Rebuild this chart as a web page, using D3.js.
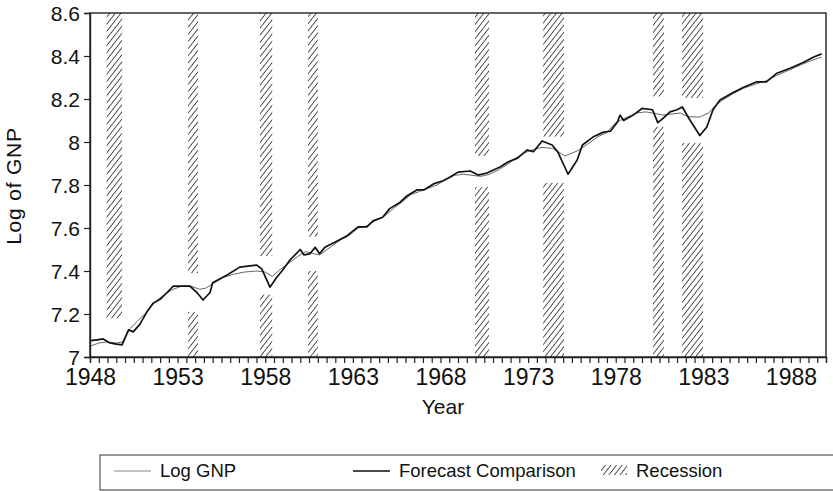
<!DOCTYPE html>
<html>
<head>
<meta charset="utf-8">
<script src="https://cdn.jsdelivr.net/npm/d3@7"></script>
<style>
  body { margin: 0; background: #fff; }
  svg { font-family: "Liberation Sans", Arial, Helvetica, sans-serif; }
</style>
</head>
<body>
<svg id="chart" width="833" height="491"></svg>
<script>
// Log GNP (thin, smooth)
var gnpYears = [1948.0, 1948.5, 1949.0, 1949.5, 1949.85, 1950.25, 1950.75, 1951.25, 1951.75, 1952.25,
  1952.75, 1953.25, 1953.75, 1954.25, 1954.6, 1955.0, 1955.6, 1956.2, 1956.8, 1957.5,
  1958.0, 1958.4, 1958.9, 1959.4, 1959.9, 1960.3, 1960.8, 1961.1, 1961.7, 1962.3,
  1962.8, 1963.3, 1963.8, 1964.3, 1964.8, 1965.3, 1965.8, 1966.3, 1966.8, 1967.3,
  1967.8, 1968.3, 1968.8, 1969.3, 1969.8, 1970.3, 1970.8, 1971.3, 1971.8, 1972.3,
  1972.8, 1973.3, 1973.8, 1974.4, 1975.1, 1975.85, 1976.4, 1977.0, 1977.5, 1978.0,
  1978.5, 1979.2, 1979.7, 1980.1, 1980.7, 1981.2, 1981.7, 1982.1, 1982.8, 1983.3,
  1983.7, 1984.1, 1984.7, 1985.3, 1986.0, 1986.6, 1987.2, 1987.9, 1988.6, 1989.2, 1989.75];
var gnpValues = [7.05, 7.065, 7.07, 7.065, 7.07, 7.13, 7.17, 7.21, 7.26, 7.29,
  7.315, 7.33, 7.33, 7.315, 7.32, 7.34, 7.37, 7.385, 7.395, 7.40,
  7.395, 7.375, 7.41, 7.44, 7.47, 7.49, 7.48, 7.475, 7.51, 7.545,
  7.565, 7.60, 7.61, 7.635, 7.655, 7.69, 7.72, 7.755, 7.77, 7.785,
  7.80, 7.825, 7.845, 7.85, 7.845, 7.84, 7.85, 7.87, 7.895, 7.925,
  7.95, 7.965, 7.975, 7.97, 7.935, 7.96, 7.99, 8.025, 8.045, 8.09,
  8.11, 8.135, 8.14, 8.135, 8.125, 8.13, 8.135, 8.118, 8.116, 8.135,
  8.17, 8.195, 8.225, 8.25, 8.27, 8.285, 8.31, 8.335, 8.36, 8.38, 8.395];

// Forecast Comparison (dark, dips in recessions)
var fcYears = [1948.0, 1948.4, 1948.75, 1949.14, 1949.5, 1949.83, 1950.2, 1950.47, 1950.85, 1951.25,
  1951.6, 1952.0, 1952.4, 1952.75, 1953.25, 1953.7, 1954.1, 1954.45, 1954.85, 1955.0,
  1955.8, 1956.55, 1957.5, 1957.8, 1958.27, 1958.65, 1959.0, 1959.4, 1960.0, 1960.2,
  1960.55, 1960.85, 1961.1, 1961.4, 1962.0, 1962.65, 1963.3, 1963.8, 1964.15, 1964.7,
  1965.1, 1965.7, 1966.1, 1966.65, 1967.05, 1967.6, 1968.15, 1968.55, 1969.0, 1969.7,
  1970.15, 1970.65, 1971.4, 1971.85, 1972.4, 1972.95, 1973.3, 1973.8, 1974.37, 1974.7,
  1975.28, 1975.8, 1976.1, 1976.7, 1977.3, 1977.7, 1978.1, 1978.25, 1978.45, 1979.0,
  1979.5, 1980.1, 1980.4, 1980.7, 1981.1, 1981.5, 1981.8, 1982.25, 1982.8, 1983.2,
  1983.55, 1983.95, 1984.7, 1985.3, 1986.05, 1986.6, 1987.2, 1987.95, 1988.7, 1989.3, 1989.75];
var fcValues = [7.076, 7.08, 7.084, 7.065, 7.06, 7.056, 7.126, 7.117, 7.153, 7.21,
  7.25, 7.268, 7.30, 7.33, 7.33, 7.33, 7.30, 7.265, 7.30, 7.345,
  7.38, 7.418, 7.428, 7.41, 7.325, 7.37, 7.405, 7.45, 7.50, 7.475,
  7.48, 7.51, 7.48, 7.51, 7.535, 7.563, 7.605, 7.605, 7.633, 7.65,
  7.69, 7.72, 7.75, 7.777, 7.777, 7.805, 7.82, 7.837, 7.86, 7.865,
  7.846, 7.856, 7.884, 7.907, 7.925, 7.963, 7.955, 8.005, 7.986, 7.953,
  7.85, 7.916, 7.986, 8.023, 8.046, 8.05, 8.093, 8.125, 8.10, 8.125,
  8.156, 8.15, 8.09, 8.11, 8.14, 8.15, 8.163, 8.10, 8.03, 8.07,
  8.15, 8.195, 8.23, 8.255, 8.28, 8.28, 8.32, 8.343, 8.37, 8.395, 8.41];

// recession shading: start, end, and the open gap around the lines
var recStart = [1948.95, 1953.6, 1957.7, 1960.44, 1969.97, 1973.86, 1980.13, 1981.79];
var recEnd   = [1949.83, 1954.16, 1958.4, 1961.0, 1970.77, 1975.05, 1980.75, 1982.99];
var gapLow   = [7.0, 7.21, 7.29, 7.40, 7.79, 7.81, 8.07, 7.995];
var gapHigh  = [7.18, 7.39, 7.47, 7.56, 7.935, 8.025, 8.212, 8.205];

var yTicks = [7, 7.2, 7.4, 7.6, 7.8, 8, 8.2, 8.4, 8.6];
var xLabelYears = [1948, 1953, 1958, 1963, 1968, 1973, 1978, 1983, 1988];

(function () {
    var svg = d3.select("#chart");
    var mLeft = 90, mRight = 826, mTop = 13, mBottom = 357;

    var x = d3.scaleLinear().domain([1948, 1990]).range([mLeft, mRight]);
    var y = d3.scaleLinear().domain([7, 8.6]).range([mBottom, mTop]);

    var defs = svg.append("defs");
    var pat = defs.append("pattern")
        .attr("id", "hatch")
        .attr("patternUnits", "userSpaceOnUse")
        .attr("width", 4.4).attr("height", 4.4)
        .attr("patternTransform", "rotate(38)");
    pat.append("line")
        .attr("x1", 2.2).attr("y1", 0).attr("x2", 2.2).attr("y2", 4.4)
        .attr("stroke", "#404040").attr("stroke-width", 0.9);

    // recession bands, split around the lines
    var bands = svg.append("g").attr("class", "bands");
    recStart.forEach(function (s, i) {
        var x0 = x(s), w = x(recEnd[i]) - x(s);
        bands.append("rect")
            .attr("x", x0).attr("y", y(8.6))
            .attr("width", w).attr("height", y(gapHigh[i]) - y(8.6))
            .attr("fill", "url(#hatch)");
        if (gapLow[i] > 7) {
            bands.append("rect")
                .attr("x", x0).attr("y", y(gapLow[i]))
                .attr("width", w).attr("height", y(7) - y(gapLow[i]))
                .attr("fill", "url(#hatch)");
        }
    });

    var line = d3.line()
        .x(function (d) { return x(d[0]); })
        .y(function (d) { return y(d[1]); });

    svg.append("path")
        .datum(d3.zip(gnpYears, gnpValues))
        .attr("d", line)
        .attr("fill", "none")
        .attr("stroke", "#555")
        .attr("stroke-width", 0.9);

    svg.append("path")
        .datum(d3.zip(fcYears, fcValues))
        .attr("d", line)
        .attr("fill", "none")
        .attr("stroke", "#111")
        .attr("stroke-width", 1.7)
        .attr("stroke-linejoin", "round");

    // frame
    svg.append("rect")
        .attr("x", mLeft).attr("y", mTop)
        .attr("width", mRight - mLeft).attr("height", mBottom - mTop)
        .attr("fill", "none").attr("stroke", "#222").attr("stroke-width", 1.4);

    // x axis
    var halfYears = d3.range(1948, 1990.01, 0.5);
    var xAxis = d3.axisBottom(x)
        .tickValues(halfYears)
        .tickSize(6)
        .tickFormat(function (d) { return xLabelYears.indexOf(d) >= 0 ? d : ""; });
    var gx = svg.append("g")
        .attr("transform", "translate(0," + mBottom + ")")
        .call(xAxis);
    gx.select(".domain").attr("stroke", "#222").attr("stroke-width", 1.4);
    gx.selectAll(".tick line").attr("stroke", "#222").attr("stroke-width", 1.2);
    gx.selectAll(".tick text")
        .attr("font-size", 23).attr("fill", "#111")
        .attr("font-family", "Liberation Sans, Arial, sans-serif")
        .attr("dy", "0.78em").attr("y", 10);

    // y axis
    var yAxis = d3.axisLeft(y)
        .tickValues(yTicks)
        .tickSize(6)
        .tickFormat(function (d) { return String(+d.toFixed(1)); });
    var gy = svg.append("g")
        .attr("transform", "translate(" + mLeft + ",0)")
        .call(yAxis);
    gy.select(".domain").attr("stroke", "#222").attr("stroke-width", 1.4);
    gy.selectAll(".tick line").attr("stroke", "#222").attr("stroke-width", 1.2);
    gy.selectAll(".tick text")
        .attr("font-size", 21).attr("fill", "#111")
        .attr("font-family", "Liberation Sans, Arial, sans-serif")
        .attr("x", -10).attr("dy", "0.34em");

    // axis titles
    svg.append("text")
        .attr("x", 443).attr("y", 414)
        .attr("text-anchor", "middle")
        .attr("font-size", 21).attr("fill", "#111")
        .text("Year");

    svg.append("text")
        .attr("transform", "translate(21,186) rotate(-90)")
        .attr("text-anchor", "middle")
        .attr("font-size", 21).attr("fill", "#111")
        .attr("letter-spacing", 0.8)
        .text("Log of GNP");

    // legend
    var lg = svg.append("g").attr("class", "legend");
    lg.append("rect")
        .attr("x", 100).attr("y", 455)
        .attr("width", 760).attr("height", 35)
        .attr("fill", "none").attr("stroke", "#333").attr("stroke-width", 1);

    lg.append("line")
        .attr("x1", 114).attr("x2", 151).attr("y1", 471).attr("y2", 471)
        .attr("stroke", "#777").attr("stroke-width", 0.9);
    lg.append("text")
        .attr("x", 160).attr("y", 477)
        .attr("font-size", 18.5).attr("fill", "#111")
        .text("Log GNP");

    lg.append("line")
        .attr("x1", 353).attr("x2", 390).attr("y1", 471).attr("y2", 471)
        .attr("stroke", "#111").attr("stroke-width", 1.4);
    lg.append("text")
        .attr("x", 399).attr("y", 477)
        .attr("font-size", 18.5).attr("fill", "#111")
        .text("Forecast Comparison");

    lg.append("rect")
        .attr("x", 601).attr("y", 465)
        .attr("width", 26).attr("height", 10)
        .attr("fill", "url(#hatch)");
    lg.append("text")
        .attr("x", 636).attr("y", 477)
        .attr("font-size", 18.5).attr("fill", "#111")
        .text("Recession");
})();
</script>
</body>
</html>
